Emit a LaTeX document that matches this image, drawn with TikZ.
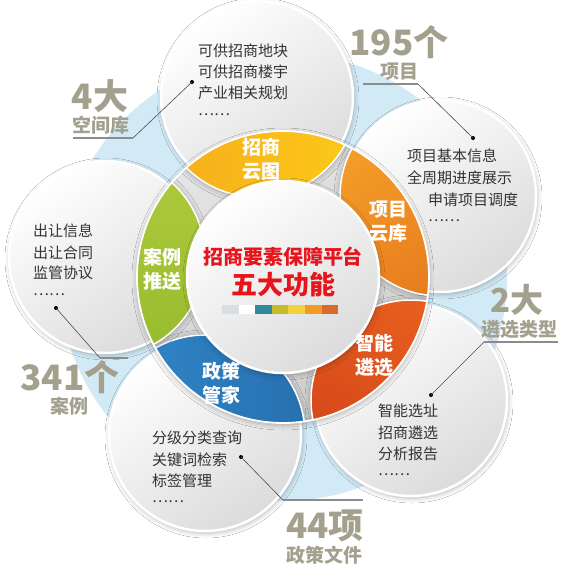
\documentclass[tikz,border=0pt]{standalone}
\usepackage{fontspec}
\setmainfont{Noto Sans CJK SC}
\usetikzlibrary{shadows.blur}
\definecolor{lblue}{HTML}{D2EAF6}
\definecolor{labgrey}{HTML}{A3A18E}
\definecolor{txtgrey}{HTML}{333333}
\definecolor{titlered}{HTML}{E8141C}
\definecolor{yelA}{HTML}{F4AC1C}
\definecolor{yelB}{HTML}{FDC918}
\definecolor{orgA}{HTML}{F5A02A}
\definecolor{orgB}{HTML}{E6781C}
\definecolor{redA}{HTML}{E8601F}
\definecolor{redB}{HTML}{D4441A}
\definecolor{bluA}{HTML}{3088CA}
\definecolor{bluB}{HTML}{2870B0}
\definecolor{grnA}{HTML}{AECB3C}
\definecolor{grnB}{HTML}{98BB2E}
\definecolor{barA}{HTML}{D9DEE3}
\definecolor{barB}{HTML}{FFFFFF}
\definecolor{barC}{HTML}{2E8A9C}
\definecolor{barD}{HTML}{C9B92C}
\definecolor{barE}{HTML}{F3D33C}
\definecolor{barF}{HTML}{F29A26}
\definecolor{barG}{HTML}{DB6A2B}
\tikzset{
  petal/.style={draw=white, line width=2.5pt, top color=white, bottom color=black!14, shading angle=35,
    blur shadow={shadow xshift=1pt, shadow yshift=-2pt, shadow opacity=30, shadow blur radius=5pt}},
  seg/.style={draw=white, line width=1.5pt,
    blur shadow={shadow xshift=0pt, shadow yshift=-1pt, shadow opacity=35, shadow blur radius=6pt}},
  segtext/.style={text=white, font=\bfseries\fontsize{19}{24}\selectfont, align=center, inner sep=0pt},
  ptext/.style={text=txtgrey, font=\fontsize{15}{15}\selectfont, anchor=base west, inner sep=0pt},
  bignum/.style={text=labgrey, font=\bfseries\fontsize{35}{35}\selectfont, inner sep=0pt},
  sublab/.style={text=labgrey, font=\bfseries\fontsize{19}{19}\selectfont, inner sep=0pt},
  slant/.style={draw=black!70, line width=0.6pt},
  uline/.style={draw=black!45, line width=1.1pt},
  dotmark/.style={circle, fill=black, inner sep=0pt, minimum size=4pt}
}
\begin{document}
\begin{tikzpicture}[x=1pt,y=-1pt]
\useasboundingbox (0,0) rectangle (570,582);
\fill[white] (0,0) rectangle (570,582);
\coordinate (C) at (283,277);
\coordinate (Ptop) at (257,97);
\coordinate (Prt) at (440,196);
\coordinate (Prb) at (411,400);
\coordinate (Plb) at (205,435);
\coordinate (Pl) at (105,257);
% light blue background disk
\fill[lblue] (C) circle[radius=224pt];
% petals
\path[petal] (Ptop) circle[radius=96pt];
\path[petal] (Prt) circle[radius=96pt];
\path[petal] (Prb) circle[radius=96pt];
\path[petal] (Plb) circle[radius=96pt];
\path[petal] (Pl) circle[radius=96pt];
% grey ring base
\path[top color=black!10, bottom color=black!20, shading angle=20,
  blur shadow={shadow xshift=0pt, shadow yshift=-2pt, shadow opacity=30, shadow blur radius=5pt}]
  (C) circle[radius=146pt];
% coloured segments
\begin{scope}
\clip (C) circle[radius=146pt];
\path[seg, left color=yelA, right color=yelB] (Ptop) circle[radius=100pt];
\path[seg, top color=orgA, bottom color=orgB, shading angle=30] (Prt) circle[radius=100pt];
\path[seg, top color=redA, bottom color=redB, shading angle=-30] (Prb) circle[radius=100pt];
\path[seg, left color=bluA, right color=bluB] (Plb) circle[radius=100pt];
\path[seg, top color=grnA, bottom color=grnB] (Pl) circle[radius=100pt];
\end{scope}
\draw[white, line width=1.8pt] (C) circle[radius=146pt];
% centre circle
\path[petal] (C) circle[radius=96pt];
\node[text=titlered, font=\bfseries\fontsize{20}{20}\selectfont, inner sep=0pt] (title1) at (283,257) {招商要素保障平台};
\node[text=titlered, font=\bfseries\fontsize{26}{26}\selectfont, inner sep=0pt] (title2) at (283,285) {五大功能};
\foreach \c [count=\i from 0] in {barA,barB,barC,barD,barE,barF,barG}
  \fill[\c] ({222+\i*16.6},305) rectangle ++(16.6,9);
% segment labels
\node[segtext] (sY) at (261,159) {招商\\云图};
\node[segtext] (sO) at (388,222) {项目\\云库};
\node[segtext] (sR) at (374,355) {智能\\遴选};
\node[segtext] (sB) at (221,383) {政策\\管家};
\node[segtext] (sG) at (162,269) {案例\\推送};
% petal texts
\node[ptext] (a1) at (198,56) {可供招商地块};
\node[ptext] (a2) at (198,77) {可供招商楼宇};
\node[ptext] (a3) at (198,98) {产业相关规划};
\node[ptext] (a4) at (198,115) {……};
\node[ptext] (b1) at (407,161) {项目基本信息};
\node[ptext] (b2) at (407,183) {全周期进度展示};
\node[ptext] (b3) at (428,205) {申请项目调度};
\node[ptext] (b4) at (428,221) {……};
\node[ptext] (c1) at (378,416) {智能选址};
\node[ptext] (c2) at (378,438) {招商遴选};
\node[ptext] (c3) at (378,459) {分析报告};
\node[ptext] (c4) at (378,475) {……};
\node[ptext] (d1) at (152,443) {分级分类查询};
\node[ptext] (d2) at (152,465) {关键词检索};
\node[ptext] (d3) at (152,486) {标签管理};
\node[ptext] (d4) at (152,502) {……};
\node[ptext] (e1) at (33,236) {出让信息};
\node[ptext] (e2) at (33,258) {出让合同};
\node[ptext] (e3) at (33,278) {监管协议};
\node[ptext] (e4) at (33,295) {……};
% outer labels
\node[bignum] (n4) at (100,96) {4大};
\node[sublab] (l4) at (101,125) {空间库};
\node[bignum] (n195) at (399,42) {195个};
\node[sublab] (l195) at (399,72) {项目};
\node[bignum] (n341) at (70,377) {341个};
\node[sublab] (l341) at (69,406) {案例};
\node[bignum, font=\bfseries\fontsize{33}{33}\selectfont] (n2) at (517,300) {2大};
\node[sublab] (l2) at (519,329) {遴选类型};
\node[bignum] (n44) at (325,526) {44项};
\node[sublab] (l44) at (324,555) {政策文件};
% leaders
\node[dotmark] (dA) at (192,82) {};
\coordinate (kA) at (133,138);
\coordinate (eA) at (73,138);
\draw[slant] (dA.center) -- (kA);
\draw[uline] (kA) -- (eA);
\node[dotmark] (dB) at (473,138) {};
\coordinate (kB) at (418,84);
\coordinate (eB) at (363,84);
\draw[slant] (dB.center) -- (kB);
\draw[uline] (kB) -- (eB);
\node[dotmark] (dC) at (56,308) {};
\coordinate (kC) at (100,358);
\coordinate (eC) at (128,358);
\draw[slant] (dC.center) -- (kC);
\draw[uline] (kC) -- (eC);
\node[dotmark] (dD) at (241,457) {};
\coordinate (kD) at (283,500);
\coordinate (eD) at (363,500);
\draw[slant] (dD.center) -- (kD);
\draw[uline] (kD) -- (eD);
\node[dotmark] (dE) at (431,395) {};
\coordinate (kE) at (484,342);
\coordinate (eE) at (558,342);
\draw[slant] (dE.center) -- (kE);
\draw[uline] (kE) -- (eE);
\end{tikzpicture}
\end{document}
